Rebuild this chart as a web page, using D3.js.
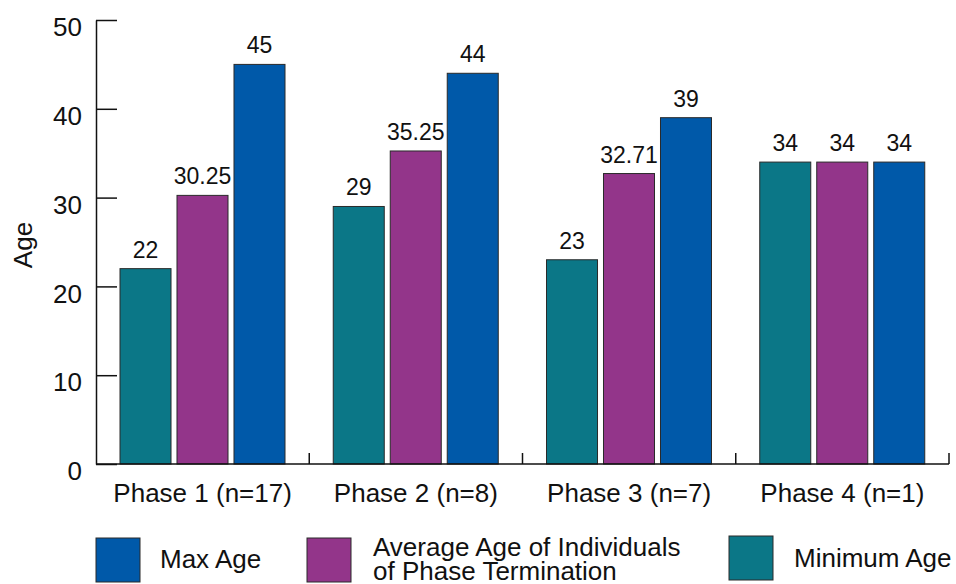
<!DOCTYPE html>
<html>
<head>
<meta charset="utf-8">
<script src="https://cdn.jsdelivr.net/npm/d3@7"></script>
<style>
  html, body { margin: 0; padding: 0; background: #fff; }
  svg { display: block; font-family: "Liberation Sans", Arial, sans-serif; }
</style>
</head>
<body>
<svg id="chart" width="956" height="584"></svg>
<script>
// Age at phase termination, per phase
const phases = ["Phase 1 (n=17)", "Phase 2 (n=8)", "Phase 3 (n=7)", "Phase 4 (n=1)"];
const minAge = [22, 29, 23, 34];
const avgAge = [30.25, 35.25, 32.71, 34];
const maxAge = [45, 44, 39, 34];
const yTicks = [0, 10, 20, 30, 40, 50];

const series = [
  { key: "min", name: "Minimum Age", values: minAge, color: "#0b7787" },
  { key: "avg", name: ["Average Age of Individuals", "of Phase Termination"], values: avgAge, color: "#93358a" },
  { key: "max", name: "Max Age", values: maxAge, color: "#0059a9" }
];

const svg = d3.select("#chart");
const plotLeft = 96, plotRight = 949, plotTop = 20, plotBottom = 464;

const y = d3.scaleLinear().domain([0, 50]).range([plotBottom, plotTop]);
const x0 = d3.scaleBand().domain(phases).range([plotLeft, plotRight]).padding(0);
const x1 = d3.scaleBand().domain(series.map(s => s.key)).range([24, 189]).paddingInner(0.105).paddingOuter(0);

// Bars
const groups = svg.append("g").selectAll("g")
  .data(phases)
  .join("g")
  .attr("transform", d => `translate(${x0(d)},0)`);

groups.selectAll("rect")
  .data((p, i) => series.map(s => ({ key: s.key, color: s.color, v: s.values[i] })))
  .join("rect")
  .attr("x", d => x1(d.key))
  .attr("y", d => y(d.v))
  .attr("width", x1.bandwidth())
  .attr("height", d => y(0) - y(d.v))
  .attr("fill", d => d.color)
  .attr("stroke", "#2a2a2a")
  .attr("stroke-width", 1);

groups.selectAll("text.val")
  .data((p, i) => series.map(s => ({ key: s.key, v: s.values[i] })))
  .join("text")
  .attr("class", "val")
  .attr("x", d => x1(d.key) + x1.bandwidth() / 2)
  .attr("y", d => y(d.v) - 11)
  .attr("text-anchor", "middle")
  .attr("font-size", 23)
  .attr("fill", "#111")
  .text(d => String(d.v));

// Y axis with inward ticks
const yAxis = svg.append("g")
  .attr("transform", `translate(${plotLeft},0)`)
  .call(d3.axisLeft(y).tickValues(yTicks).tickSizeInner(-21).tickSizeOuter(0).tickPadding(14));
yAxis.select(".domain").attr("stroke", "#111").attr("stroke-width", 1.5);
yAxis.selectAll(".tick line").attr("stroke", "#111").attr("stroke-width", 1.5);
yAxis.selectAll(".tick text")
  .attr("font-size", 26)
  .attr("font-family", "'Liberation Sans', Arial, sans-serif")
  .attr("fill", "#111")
  .attr("dy", "0.6em");

// Y axis title
svg.append("text")
  .attr("transform", "translate(32,245) rotate(-90)")
  .attr("text-anchor", "middle")
  .attr("font-size", 26)
  .attr("fill", "#111")
  .text("Age");

// X axis baseline with tick marks at band boundaries
const xAxis = svg.append("g");
xAxis.append("line")
  .attr("x1", plotLeft).attr("x2", plotRight)
  .attr("y1", y(0)).attr("y2", y(0))
  .attr("stroke", "#111").attr("stroke-width", 1.5);
xAxis.selectAll("line.tick")
  .data(phases)
  .join("line")
  .attr("class", "tick")
  .attr("x1", d => x0(d) + x0.bandwidth())
  .attr("x2", d => x0(d) + x0.bandwidth())
  .attr("y1", y(0)).attr("y2", y(0) - 11)
  .attr("stroke", "#111").attr("stroke-width", 1.5);
xAxis.selectAll("text")
  .data(phases)
  .join("text")
  .attr("x", d => x0(d) + x0.bandwidth() / 2)
  .attr("y", 502)
  .attr("text-anchor", "middle")
  .attr("font-size", 26)
  .attr("fill", "#111")
  .text(d => d);

// Legend
const legendItems = [
  { s: series[2], x: 96, y: 538, tx: 160, ty: 568 },
  { s: series[1], x: 307, y: 538, tx: 373, ty: 556 },
  { s: series[0], x: 729, y: 536, tx: 794, ty: 567 }
];
const legend = svg.append("g").selectAll("g")
  .data(legendItems)
  .join("g");
legend.append("rect")
  .attr("x", d => d.x).attr("y", d => d.y)
  .attr("width", 44).attr("height", 44)
  .attr("fill", d => d.s.color)
  .attr("stroke", "#2a2a2a").attr("stroke-width", 1);
legend.append("text")
  .attr("x", d => d.tx).attr("y", d => d.ty)
  .attr("font-size", 26)
  .attr("fill", "#111")
  .each(function(d) {
    const lines = Array.isArray(d.s.name) ? d.s.name : [d.s.name];
    d3.select(this).selectAll("tspan")
      .data(lines)
      .join("tspan")
      .attr("x", d.tx)
      .attr("dy", (l, i) => i === 0 ? 0 : 24)
      .text(l => l);
  });
</script>
</body>
</html>
